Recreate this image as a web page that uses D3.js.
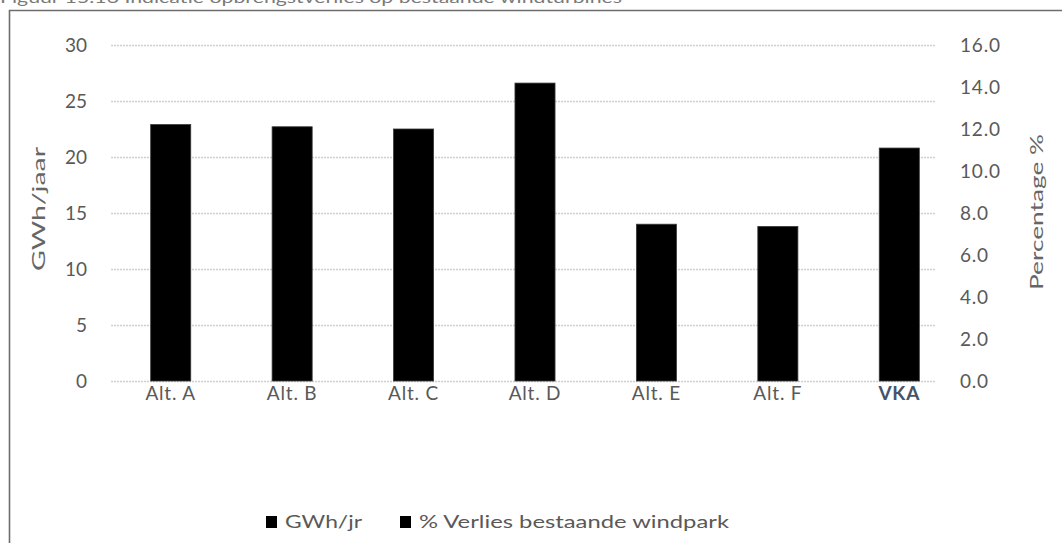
<!DOCTYPE html>
<html>
<head>
<meta charset="utf-8">
<script src="https://cdn.jsdelivr.net/npm/d3@7"></script>
<style>
  html, body { margin: 0; padding: 0; background: #fff; }
  svg { display: block; }
  text { font-family: Lato, "Open Sans", sans-serif; }
</style>
</head>
<body>
<svg id="chart" width="1062" height="543"></svg>
<script>
// ---- data ----
const title = "Figuur 15.13 Indicatie opbrengstverlies op bestaande windturbines";
const categories = ["Alt. A", "Alt. B", "Alt. C", "Alt. D", "Alt. E", "Alt. F", "VKA"];
const gwhValues = [22.9, 22.7, 22.5, 26.6, 14.0, 13.8, 20.8];
const leftTicks = [0, 5, 10, 15, 20, 25, 30];
const rightTicks = [0, 2, 4, 6, 8, 10, 12, 14, 16];
const leftTitle = "GWh/jaar";
const rightTitle = "Percentage %";
const legendLabels = ["GWh/jr", "% Verlies bestaande windpark"];

// ---- layout ----
const svg = d3.select("#chart");
const W = 1062, H = 543;
const plotTop = 45, plotBottom = 381;
const gridLeft = 111, gridRight = 935;
const textColor = "#595959";

const x = d3.scaleBand().domain(categories).range([110, 960])
  .paddingInner(0.67).paddingOuter(0.335);
const yL = d3.scaleLinear().domain([0, 30]).range([plotBottom, plotTop]);
const yR = d3.scaleLinear().domain([0, 16]).range([plotBottom, plotTop]);

// frame (left + top border)
svg.append("path")
  .attr("d", `M9.5,${H} L9.5,10.5 L${W},10.5`)
  .attr("fill", "none").attr("stroke", "#6e6e6e").attr("stroke-width", 1.6);

// title (partially cut off at the top, as in the source)
svg.append("text")
  .attr("x", 0).attr("y", 3)
  .attr("font-size", 15).attr("fill", "#7a7a7a")
  .attr("textLength", 622).attr("lengthAdjust", "spacingAndGlyphs")
  .text(title);

// gridlines
svg.append("g").selectAll("line").data(leftTicks).join("line")
  .attr("x1", gridLeft).attr("x2", gridRight)
  .attr("y1", d => Math.round(yL(d)) + 0.5).attr("y2", d => Math.round(yL(d)) + 0.5)
  .attr("stroke", "#cfcfcf").attr("stroke-width", 1.3)
  .attr("stroke-dasharray", "2,1");

// left axis
const leftAxis = d3.axisLeft(yL).tickValues(leftTicks).tickSize(0).tickPadding(0);
const gL = svg.append("g").attr("transform", "translate(87,0)").call(leftAxis);
gL.select(".domain").remove();
gL.selectAll("text").attr("font-size", 19).attr("fill", textColor)
  .attr("font-family", "Lato, sans-serif").attr("dy", "0.36em");

// right axis
const rightAxis = d3.axisRight(yR).tickValues(rightTicks).tickSize(0).tickPadding(0)
  .tickFormat(d3.format(".1f"));
const gR = svg.append("g").attr("transform", "translate(960,0)").call(rightAxis);
gR.select(".domain").remove();
gR.selectAll("text").attr("font-size", 19).attr("fill", textColor)
  .attr("font-family", "Lato, sans-serif").attr("dy", "0.36em")
  .attr("letter-spacing", 0.8);

// bottom axis labels
const bottomAxis = d3.axisBottom(x).tickSize(0).tickPadding(0);
const gB = svg.append("g").attr("transform", `translate(0,${plotBottom + 12})`).call(bottomAxis);
gB.select(".domain").remove();
gB.selectAll("text").attr("font-size", 19).attr("fill", textColor)
  .attr("font-family", "Lato, sans-serif").attr("dy", "0.36em")
  .attr("letter-spacing", 0.8)
  .attr("font-weight", d => d === "VKA" ? "bold" : "normal")
  .attr("fill", d => d === "VKA" ? "#44546a" : textColor);

// bars
svg.append("g").selectAll("rect").data(gwhValues).join("rect")
  .attr("x", (d, i) => x(categories[i]))
  .attr("width", x.bandwidth())
  .attr("y", d => yL(d))
  .attr("height", d => yL(0) - yL(d))
  .attr("fill", "#000").attr("stroke", "#3a3a3a").attr("stroke-width", 0.8);

// axis titles
svg.append("text")
  .attr("transform", `translate(39,209) rotate(-90)`)
  .attr("text-anchor", "middle").attr("dy", "0.36em")
  .attr("font-size", 18).attr("fill", "#666")
  .attr("textLength", 124).attr("lengthAdjust", "spacingAndGlyphs")
  .text(leftTitle);
svg.append("text")
  .attr("transform", `translate(1037,212) rotate(-90)`)
  .attr("text-anchor", "middle").attr("dy", "0.36em")
  .attr("font-size", 18).attr("fill", "#666")
  .attr("textLength", 156).attr("lengthAdjust", "spacingAndGlyphs")
  .text(rightTitle);

// legend
const legendX = [266, 400];
const legendLen = [77, 310];
const lg = svg.append("g");
legendLabels.forEach((lab, i) => {
  lg.append("rect").attr("x", legendX[i]).attr("y", 516).attr("width", 11).attr("height", 12)
    .attr("fill", "#000");
  lg.append("text").attr("x", legendX[i] + 19).attr("y", 522).attr("dy", "0.36em")
    .attr("font-size", 18).attr("fill", textColor)
    .attr("textLength", legendLen[i]).attr("lengthAdjust", "spacingAndGlyphs")
    .text(lab);
});
</script>
</body>
</html>
